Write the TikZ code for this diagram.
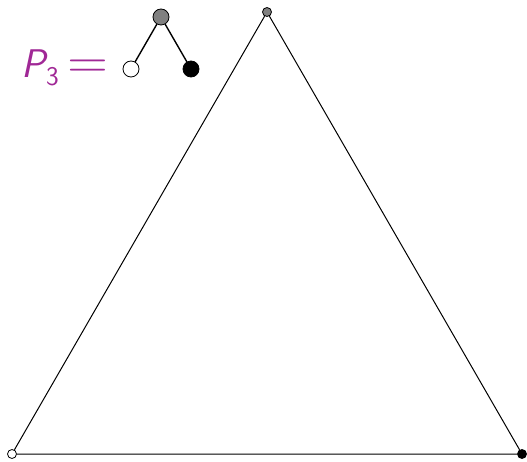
\documentclass[tikz,border=0pt]{standalone}
\definecolor{pmag}{RGB}{160,40,150}
\begin{document}
\begin{tikzpicture}[x=1pt,y=1pt,
  big/.style={circle,draw,inner sep=0pt,minimum size=16pt,line width=0.8pt},
  small/.style={circle,draw,inner sep=0pt,minimum size=9pt,line width=0.8pt},
  edge/.style={line width=1pt}]
\useasboundingbox (0,0) rectangle (527,461);
\node[small,fill=gray] (t) at (267,449) {};
\node[small,fill=white] (l) at (12,7) {};
\node[small,fill=black] (r) at (522,7) {};
\draw[edge] (l) -- (t) -- (r) -- (l);
\node[big,fill=gray] (a) at (161,444) {};
\node[big,fill=white] (b) at (131,392) {};
\node[big,fill=black] (c) at (191,392) {};
\draw[edge,line width=1.4pt] (a) -- (b);
\draw[edge,line width=1.4pt] (a) -- (c);
\node[text=pmag,font=\fontsize{40}{42}\selectfont\sffamily,anchor=base west,inner sep=0pt] (lab) at (21,383) {{\slshape P}\hspace{1pt}\raisebox{-8pt}{\fontsize{27}{27}\selectfont 3}\hspace{9pt}\raisebox{-1pt}{\scalebox{1.4}[1.3]{=}}};
\end{tikzpicture}
\end{document}
